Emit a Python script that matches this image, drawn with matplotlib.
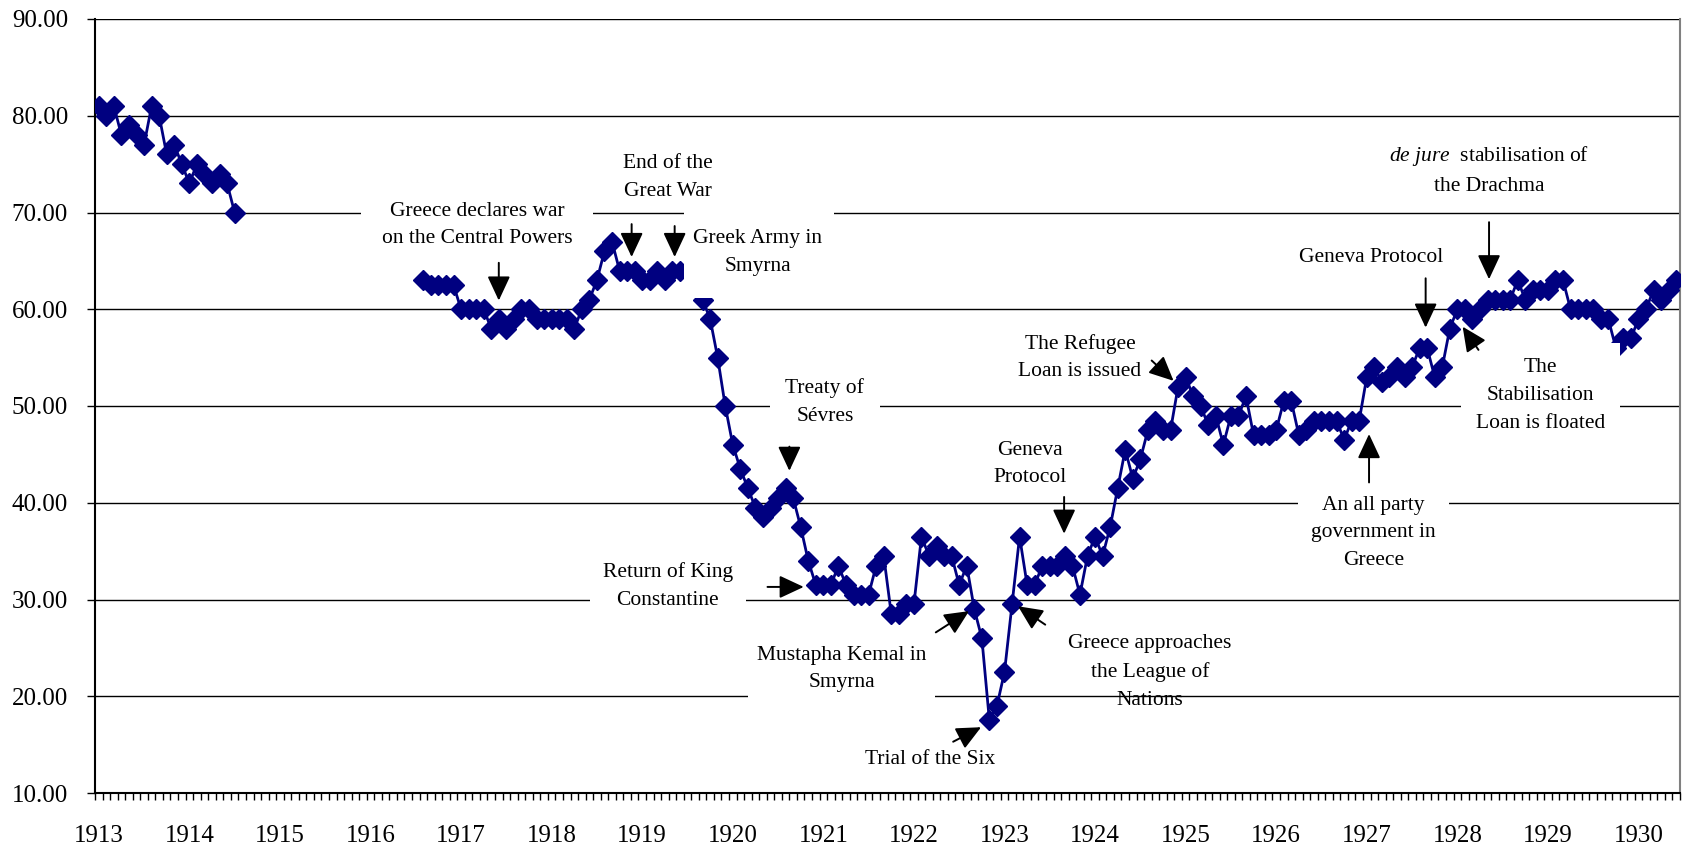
import numpy as np
import matplotlib.pyplot as plt
from matplotlib.patches import Rectangle

plt.rcParams["font.family"] = ["Liberation Serif", "DejaVu Serif"]
plt.rcParams["mathtext.fontset"] = "custom"
plt.rcParams["mathtext.rm"] = "Liberation Serif"
plt.rcParams["mathtext.it"] = "Liberation Serif:italic"

# monthly index, Jan 1913 = 0 ... Jun 1930 = 209
years = list(range(1913, 1931))

prices_1913_14 = [81, 80, 81, 78, 79, 78, 77, 81, 80, 76, 77, 75,
                  73, 75, 74, 73, 74, 73, 70]                     # Jan 1913 - Jul 1914
prices_1916_19 = [63, 62.5, 62.5, 62.5, 62.5,                     # Aug 1916 - Jun 1919
                  60, 60, 60, 60, 58, 59, 58, 59, 60, 60, 59, 59,
                  59, 59, 59, 58, 60, 61, 63, 66, 67, 64, 64, 64,
                  63, 63, 64, 63, 64, 64]
prices_1919_30 = [61, 59, 55, 50, 46, 43.5, 41.5, 39.5, 38.5, 39.5,  # Sep 1919 - Jun 1930
                  40.5, 41.5, 40.5, 37.5, 34, 31.5, 31.5, 31.5, 33.5, 31.5,
                  30.5, 30.5, 30.5, 33.5, 34.5, 28.5, 28.5, 29.5, 29.5, 36.5,
                  34.5, 35.5, 34.5, 34.5, 31.5, 33.5, 29, 26, 17.5, 19,
                  22.5, 29.5, 36.5, 31.5, 31.5, 33.5, 33.5, 33.5, 34.5, 33.5,
                  30.5, 34.5, 36.5, 34.5, 37.5, 41.5, 45.5, 42.5, 44.5, 47.5,
                  48.5, 47.5, 47.5, 52, 53, 51, 50, 48, 49, 46,
                  49, 49, 51, 47, 47, 47, 47.5, 50.5, 50.5, 47,
                  47.5, 48.5, 48.5, 48.5, 48.5, 46.5, 48.5, 48.5, 53, 54,
                  52.5, 53, 54, 53, 54, 56, 56, 53, 54, 58,
                  60, 60, 59, 60, 61, 61, 61, 61, 63, 61,
                  62, 62, 62, 63, 63, 60, 60, 60, 60, 59,
                  59, 56, 57, 57, 59, 60, 62, 61, 62, 63]
gap_1914_16 = [np.nan] * 24
gap_1919 = [np.nan] * 2

prices = np.array(prices_1913_14 + gap_1914_16 + prices_1916_19 + gap_1919 + prices_1919_30,
                  dtype=float)
months = np.arange(len(prices))

# (text, text centre, arrow tail, arrow head, box pad) in (month index, value)
notes = [
    ("Greece declares war\non the Central Powers", (50.1, 68.7), (53.0, 64.8), (53.0, 60.9), 0.95),
    ("End of the\nGreat War", (75.4, 73.6), (70.6, 68.8), (70.6, 65.4), 0.1),
    ("Greek Army in\nSmyrna", (87.3, 65.9), (76.3, 68.6), (76.3, 65.4), 0.4),
    ("Treaty of\nSévres", (96.2, 50.4), (91.5, 45.8), (91.5, 43.3), 0.72),
    ("Return of King\nConstantine", (75.4, 31.4), (88.6, 31.3), (93.4, 31.3), 0.6),
    ("Mustapha Kemal in\nSmyrna", (98.4, 22.8), (110.9, 26.6), (115.3, 28.8), 0.4),
    ("Trial of the Six", (110.1, 13.5), (113.2, 15.3), (116.9, 16.8), 0.1),
    ("Geneva\nProtocol", (123.4, 44.0), (127.9, 40.6), (127.9, 36.8), 0.1),
    ("Greece approaches\nthe League of\nNations", (139.3, 22.5), (125.4, 27.4), (121.8, 29.3), None),
    ("The Refugee\nLoan is issued", (130.0, 55.0), (139.5, 54.7), (142.4, 52.6), 0.1),
    ("An all party\ngovernment in\nGreece", (168.9, 36.9), (168.3, 42.1), (168.3, 47.1), 0.6),
    ("Geneva Protocol", (168.6, 65.3), (175.8, 63.2), (175.8, 58.1), 0.1),
    ("$\\it{de\\ jure}$  stabilisation of\nthe Drachma", (184.2, 74.4), (184.2, 69.0), (184.2, 63.1), 0.1),
    ("The\nStabilisation\nLoan is floated", (191.0, 51.1), (182.8, 55.8), (180.7, 58.2), 0.7),
]

fig = plt.figure(figsize=(16.86, 8.48), dpi=100)
ax = fig.add_axes([95 / 1686, 1 - 793 / 848, 1585 / 1686, 774 / 848])

ax.plot(months, prices, color="#000080", lw=2.0, marker="D", ms=10,
        mec="#000080", mfc="#000080", zorder=3)

ax.set_xlim(-0.5, len(prices) - 0.5)
ax.set_ylim(10, 90)
ax.set_yticks(np.arange(10, 91, 10))
ax.yaxis.set_major_formatter("{x:.2f}")
ax.grid(axis="y", color="black", lw=1)
ax.set_axisbelow(True)

ax.set_xticks(np.arange(0, len(prices), 12), labels=[str(y) for y in years])
ax.set_xticks(np.arange(-0.5, len(prices), 1), minor=True)
ax.tick_params(axis="x", which="major", length=0, pad=23, labelsize=18)
ax.tick_params(axis="x", which="minor", length=5, width=1, direction="out")
ax.tick_params(axis="y", length=5.5, width=1, direction="out", pad=14, labelsize=18)

ax.spines["top"].set_visible(False)
ax.spines["right"].set_color("#808080")
ax.spines["right"].set_linewidth(1.5)
ax.spines["left"].set_linewidth(1.5)
ax.spines["bottom"].set_linewidth(1.5)

# text box of "Greek Army in Smyrna" hides part of the series
ax.add_patch(Rectangle((77.5, 61.2), 19.85, 9.1, fc="white", ec="none", zorder=4))

for text, pos, tail, head, pad in notes:
    box = None if pad is None else dict(boxstyle=f"square,pad={pad}", fc="white", ec="none")
    ax.text(pos[0], pos[1], text, ha="center", va="center", fontsize=15.5,
            linespacing=1.62, zorder=5, bbox=box)
    ax.annotate("", xy=head, xytext=tail, zorder=6,
                arrowprops=dict(arrowstyle="-|>,head_length=0.75,head_width=0.35",
                                color="black", lw=1.4, mutation_scale=20,
                                shrinkA=0, shrinkB=0))

fig.savefig("out.png", dpi=100)
